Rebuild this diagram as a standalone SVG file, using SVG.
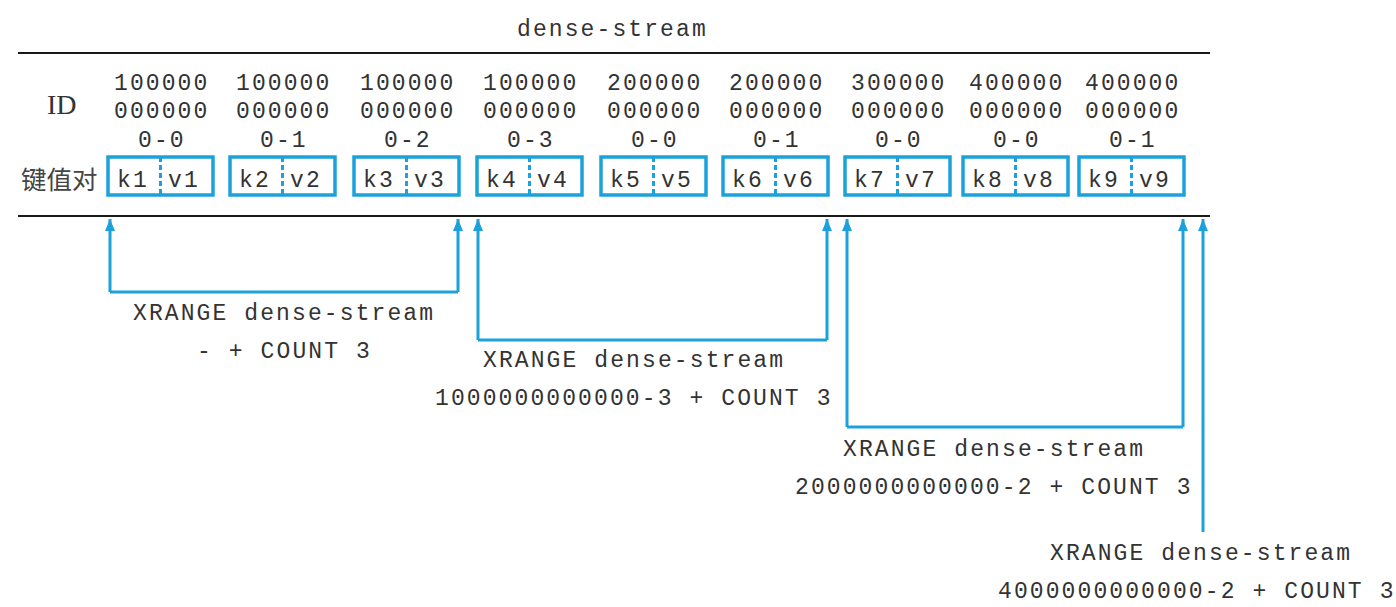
<svg xmlns="http://www.w3.org/2000/svg" width="1396" height="607" viewBox="0 0 1396 607">
<style>
.m{font-family:"Liberation Mono","DejaVu Sans Mono",monospace;font-size:23px;letter-spacing:2.1px;fill:#333}
.s{font-family:"Liberation Serif",serif;font-size:28px;fill:#333}
.c{font-family:"Noto Sans CJK SC",sans-serif;font-size:25.5px;fill:#444}
.box{fill:none;stroke:#1ba1dc;stroke-width:3.5}
.div{stroke:#1ba1dc;stroke-width:3;stroke-dasharray:5 3}
.rule{stroke:#1a1a1a;stroke-width:2}
.con{fill:none;stroke:#1ba1dc;stroke-width:3}
</style>
<defs>
<marker id="ah" markerUnits="userSpaceOnUse" markerWidth="12" markerHeight="10" refX="12" refY="5" orient="auto">
<path d="M0,0 L12,5 L0,10 z" fill="#1ba1dc"/>
</marker>
</defs>
<g id="header">
<text class="m" x="517" y="36">dense-stream</text>
<line class="rule" x1="18" y1="53" x2="1210" y2="53"/>
<line class="rule" x1="18" y1="216" x2="1210" y2="216"/>
<text class="s" x="47" y="114">ID</text>
<text class="c" x="21" y="189">键值对</text>
</g>
<g id="e1"><text class="m" x="114" y="90">100000</text><text class="m" x="114" y="118">000000</text><text class="m" x="138" y="147">0-0</text><rect class="box" x="108" y="157" width="105" height="38"/><line class="div" x1="160.5" y1="157" x2="160.5" y2="195"/><text class="m" x="117" y="187">k1</text><text class="m" x="168" y="187">v1</text></g>
<g id="e2"><text class="m" x="236" y="90">100000</text><text class="m" x="236" y="118">000000</text><text class="m" x="260" y="147">0-1</text><rect class="box" x="230" y="157" width="105" height="38"/><line class="div" x1="282.5" y1="157" x2="282.5" y2="195"/><text class="m" x="239" y="187">k2</text><text class="m" x="290" y="187">v2</text></g>
<g id="e3"><text class="m" x="360" y="90">100000</text><text class="m" x="360" y="118">000000</text><text class="m" x="384" y="147">0-2</text><rect class="box" x="354" y="157" width="105" height="38"/><line class="div" x1="406.5" y1="157" x2="406.5" y2="195"/><text class="m" x="363" y="187">k3</text><text class="m" x="414" y="187">v3</text></g>
<g id="e4"><text class="m" x="483" y="90">100000</text><text class="m" x="483" y="118">000000</text><text class="m" x="507" y="147">0-3</text><rect class="box" x="477" y="157" width="105" height="38"/><line class="div" x1="529.5" y1="157" x2="529.5" y2="195"/><text class="m" x="486" y="187">k4</text><text class="m" x="537" y="187">v4</text></g>
<g id="e5"><text class="m" x="607" y="90">200000</text><text class="m" x="607" y="118">000000</text><text class="m" x="631" y="147">0-0</text><rect class="box" x="601" y="157" width="105" height="38"/><line class="div" x1="653.5" y1="157" x2="653.5" y2="195"/><text class="m" x="610" y="187">k5</text><text class="m" x="661" y="187">v5</text></g>
<g id="e6"><text class="m" x="729" y="90">200000</text><text class="m" x="729" y="118">000000</text><text class="m" x="753" y="147">0-1</text><rect class="box" x="723" y="157" width="105" height="38"/><line class="div" x1="775.5" y1="157" x2="775.5" y2="195"/><text class="m" x="732" y="187">k6</text><text class="m" x="783" y="187">v6</text></g>
<g id="e7"><text class="m" x="851" y="90">300000</text><text class="m" x="851" y="118">000000</text><text class="m" x="875" y="147">0-0</text><rect class="box" x="845" y="157" width="105" height="38"/><line class="div" x1="897.5" y1="157" x2="897.5" y2="195"/><text class="m" x="854" y="187">k7</text><text class="m" x="905" y="187">v7</text></g>
<g id="e8"><text class="m" x="969" y="90">400000</text><text class="m" x="969" y="118">000000</text><text class="m" x="993" y="147">0-0</text><rect class="box" x="963" y="157" width="105" height="38"/><line class="div" x1="1015.5" y1="157" x2="1015.5" y2="195"/><text class="m" x="972" y="187">k8</text><text class="m" x="1023" y="187">v8</text></g>
<g id="e9"><text class="m" x="1085" y="90">400000</text><text class="m" x="1085" y="118">000000</text><text class="m" x="1109" y="147">0-1</text><rect class="box" x="1079" y="157" width="105" height="38"/><line class="div" x1="1131.5" y1="157" x2="1131.5" y2="195"/><text class="m" x="1088" y="187">k9</text><text class="m" x="1139" y="187">v9</text></g>
<g id="connectors">
<path class="con" d="M110,292 H458"/>
<path class="con" d="M110,292 V219" marker-end="url(#ah)"/>
<path class="con" d="M458,292 V219" marker-end="url(#ah)"/>
<path class="con" d="M478,340 H827"/>
<path class="con" d="M478,340 V219" marker-end="url(#ah)"/>
<path class="con" d="M827,340 V219" marker-end="url(#ah)"/>
<path class="con" d="M847,427 H1183"/>
<path class="con" d="M847,427 V219" marker-end="url(#ah)"/>
<path class="con" d="M1183,427 V219" marker-end="url(#ah)"/>
<path class="con" d="M1203,532 V219" marker-end="url(#ah)"/>
</g>
<g id="q1"><text class="m" x="133" y="320">XRANGE dense-stream</text><text class="m" x="197" y="358">- + COUNT 3</text></g>
<g id="q2"><text class="m" x="483" y="367">XRANGE dense-stream</text><text class="m" x="435" y="405">1000000000000-3 + COUNT 3</text></g>
<g id="q3"><text class="m" x="843" y="456">XRANGE dense-stream</text><text class="m" x="795" y="494">2000000000000-2 + COUNT 3</text></g>
<g id="q4"><text class="m" x="1050" y="560">XRANGE dense-stream</text><text class="m" x="998" y="598">4000000000000-2 + COUNT 3</text></g>
</svg>
